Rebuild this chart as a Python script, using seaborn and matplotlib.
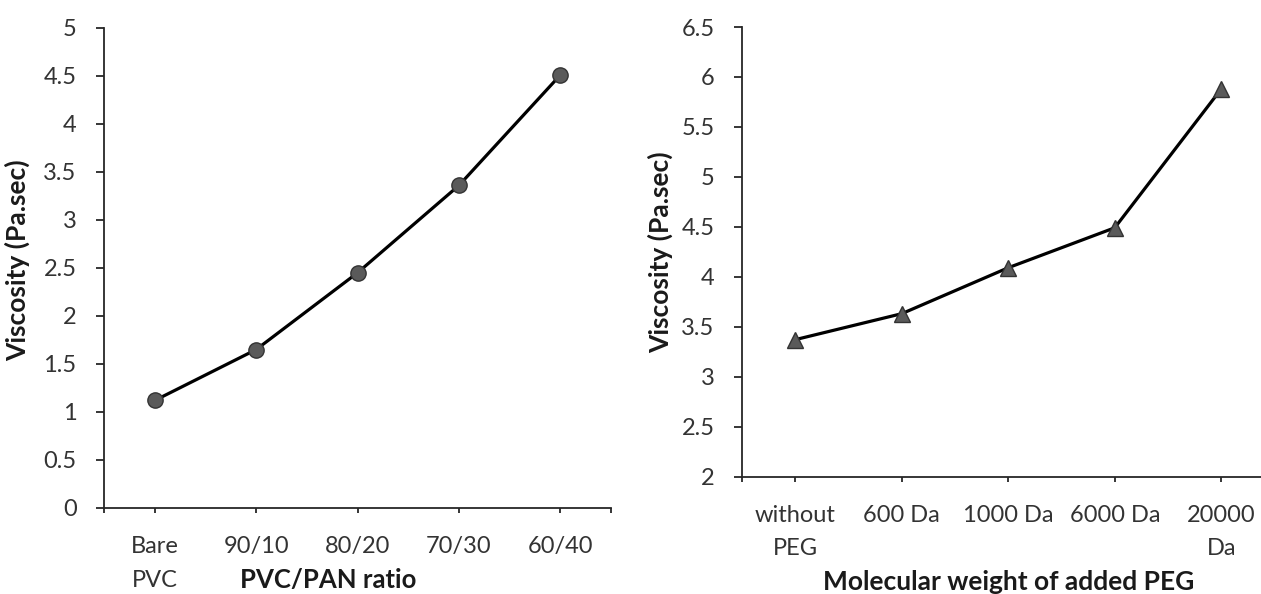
import matplotlib
matplotlib.use("Agg")
import matplotlib.pyplot as plt
import seaborn as sns
import pandas as pd

# ---- data ----
ratio_categories = ["Bare PVC", "90/10", "80/20", "70/30", "60/40"]
ratio_tick_labels = ["Bare\nPVC", "90/10", "80/20", "70/30", "60/40"]
ratio_viscosity = [1.12, 1.65, 2.45, 3.36, 4.51]

peg_categories = ["without PEG", "600 Da", "1000 Da", "6000 Da", "20000 Da"]
peg_tick_labels = ["without\nPEG", "600 Da", "1000 Da", "6000 Da", "20000\nDa"]
peg_viscosity = [3.37, 3.63, 4.09, 4.49, 5.88]

left_yticks = [0, 0.5, 1, 1.5, 2, 2.5, 3, 3.5, 4, 4.5, 5]
left_ytick_labels = ["0", "0.5", "1", "1.5", "2", "2.5", "3", "3.5", "4", "4.5", "5"]
right_yticks = [2, 2.5, 3, 3.5, 4, 4.5, 5, 5.5, 6, 6.5]
right_ytick_labels = ["2", "2.5", "3", "3.5", "4", "4.5", "5", "5.5", "6", "6.5"]

ylabel_text = "Viscosity (Pa.sec)"
left_xlabel = "PVC/PAN ratio"
right_xlabel = "Molecular weight of added PEG"

sns.set_theme(style="white")
plt.rcParams["font.family"] = ["Lato", "DejaVu Sans"]

W, H = 1261, 594
fig = plt.figure(figsize=(W / 100, H / 100), dpi=100)

def px_axes(x0, x1, y_top, y_bot):
    return fig.add_axes([x0 / W, (H - y_bot) / H, (x1 - x0) / W, (y_bot - y_top) / H])

ax1 = px_axes(104, 611, 28, 508)
ax2 = px_axes(742, 1274.5, 27, 476.5)

tick_color = "#333333"
label_color = "#1a1a1a"
axis_color = "#262626"

df1 = pd.DataFrame({"cat": ratio_categories, "v": ratio_viscosity})
df2 = pd.DataFrame({"cat": peg_categories, "v": peg_viscosity})

sns.lineplot(data=df1, x="cat", y="v", ax=ax1, sort=False, color="black",
             linewidth=2.3, marker="o", markersize=11,
             markerfacecolor="#5a5a5a", markeredgecolor="#333333", markeredgewidth=1.0)
sns.lineplot(data=df2, x="cat", y="v", ax=ax2, sort=False, color="black",
             linewidth=2.3, marker="^", markersize=12,
             markerfacecolor="#5a5a5a", markeredgecolor="#333333", markeredgewidth=1.0)

for ax, yt, ytl, xtl, ylim in [
    (ax1, left_yticks, left_ytick_labels, ratio_tick_labels, (0, 5)),
    (ax2, right_yticks, right_ytick_labels, peg_tick_labels, (2, 6.5)),
]:
    ax.set_xlim(-0.5, 4.5)
    ax.set_ylim(*ylim)
    ax.set_yticks(yt)
    ax.set_yticklabels(ytl)
    ax.set_xticks(range(len(xtl)))
    ax.set_xticklabels(xtl, linespacing=1.75)
    ax.set_xticks([-0.5, 4.5], minor=True)
    for s in ["top", "right"]:
        ax.spines[s].set_visible(False)
    for s in ["left", "bottom"]:
        ax.spines[s].set_color(axis_color)
        ax.spines[s].set_linewidth(1.3)
    ax.tick_params(axis="y", which="major", direction="out", length=5.8, width=1.3,
                   color=axis_color, pad=14, labelsize=17, labelcolor=tick_color, left=True)
    ax.tick_params(axis="x", which="both", direction="out", length=3.8, width=1.3,
                   color=axis_color, pad=16.5, labelsize=17, labelcolor=tick_color, bottom=True)
    ax.set_xlabel("")
    ax.set_ylabel(ylabel_text, fontsize=19, fontweight="bold", color=label_color)
    ax.grid(False)

ax1.yaxis.set_label_coords(-(104 - 30) / 507, 0.5 + 8 / 480)
ax2.yaxis.set_label_coords(-(742 - 673) / 532.5, 0.5)

# x labels
ax1.text((328 - 104) / 507, -(580 - 508) / 480, left_xlabel, transform=ax1.transAxes,
         ha="center", va="center", fontsize=18.5, fontweight="bold", color=label_color)
ax2.text(0.5, -(582 - 476.5) / 449.5, right_xlabel, transform=ax2.transAxes,
         ha="center", va="center", fontsize=19, fontweight="bold", color=label_color)

fig.savefig("out.png", dpi=100)
